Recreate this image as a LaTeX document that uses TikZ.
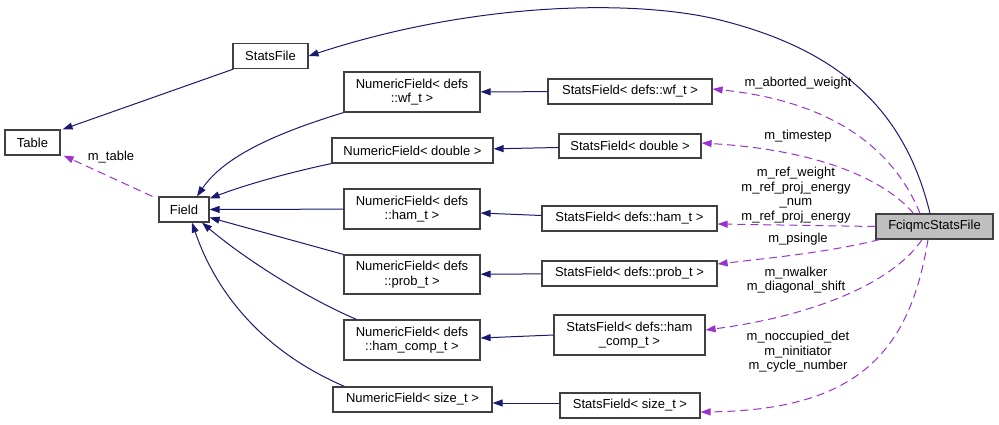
\documentclass[tikz,border=0pt]{standalone}
\usepackage{fontspec}
\setmainfont{Liberation Sans}
\usetikzlibrary{arrows.meta}
\definecolor{edgeblue}{HTML}{191970}
\definecolor{edgepurple}{HTML}{9A32CD}
\definecolor{boxline}{HTML}{404040}
\definecolor{boxgray}{HTML}{BFBFBF}
\tikzset{
    cls/.style={draw=boxline, line width=1.2pt, fill=white, inner sep=0pt, align=center,
      font=\fontsize{13}{14.5}\selectfont, minimum height=25pt},
    lbl/.style={inner sep=0pt, align=center, font=\fontsize{13}{14.5}\selectfont},
    dox/.tip={Triangle[length=10pt,width=7pt]},
    inh/.style={-dox, draw=edgeblue, line width=1pt},
    use/.style={-dox, draw=edgepurple, line width=1pt, dash pattern=on 8pt off 5pt}}

\begin{document}
\begin{tikzpicture}[x=1pt,y=-1pt]
\useasboundingbox (0,0) rectangle (999,424);
% classes
\node[cls, minimum width=75pt] (statsfile) at (270.5,56) {StatsFile};
\node[cls, minimum width=55pt] (table) at (32.5,142.5) {Table};
\node[cls, minimum width=50pt] (field) at (184,209.5) {Field};
\node[cls, minimum width=136pt, minimum height=40pt] (nwf) at (412,92) {NumericField< defs\\::wf\_t >};
\node[cls, minimum width=161pt] (ndbl) at (412.5,150.5) {NumericField< double >};
\node[cls, minimum width=136pt, minimum height=40pt] (nham) at (412,209) {NumericField< defs\\::ham\_t >};
\node[cls, minimum width=136pt, minimum height=39pt] (nprob) at (412,274.5) {NumericField< defs\\::prob\_t >};
\node[cls, minimum width=136pt, minimum height=40pt] (ncomp) at (412,340) {NumericField< defs\\::ham\_comp\_t >};
\node[cls, minimum width=159pt] (nsize) at (412.5,399.5) {NumericField< size\_t >};
\node[cls, minimum width=164pt] (swf) at (630,91.5) {StatsField< defs::wf\_t >};
\node[cls, minimum width=142pt, minimum height=24pt] (sdbl) at (630,146) {StatsField< double >};
\node[cls, minimum width=175pt] (sham) at (629.5,218.5) {StatsField< defs::ham\_t >};
\node[cls, minimum width=175pt] (sprob) at (629.5,273.5) {StatsField< defs::prob\_t >};
\node[cls, minimum width=151pt, minimum height=40pt] (scomp) at (629.5,335) {StatsField< defs::ham\\\_comp\_t >};
\node[cls, minimum width=140pt] (ssize) at (630,405.5) {StatsField< size\_t >};
\node[cls, minimum width=117pt, fill=boxgray] (fciqmc) at (934.5,226.5) {FciqmcStatsFile};

% inheritance
\draw[inh] ([xshift=-4.5pt]fciqmc.north) .. controls (905,110) and (840,50) .. (720,20)
  .. controls (640,0) and (480,0) .. (statsfile.east);
\draw[inh] ([xshift=1pt]statsfile.south west) -- ([xshift=2pt]table.north east);
\draw[inh] (nwf.south west) .. controls (280,132) and (225,155) .. ([xshift=13pt]field.north);
\draw[inh] (ndbl.south west) .. controls (300,170) and (250,183) .. ([yshift=11pt]field.east);
\draw[inh] (nham) -- (field);
\draw[inh] (nprob.north west) -- ([yshift=-8pt]field.east);
\draw[inh] ([xshift=13pt]ncomp.north west) .. controls (300,295) and (240,255) .. ([xshift=18pt]field.south);
\draw[inh] ([xshift=12pt]nsize.north west) .. controls (260,350) and (215,290) .. ([xshift=8pt]field.south);
\draw[inh] (swf) -- (nwf);
\draw[inh] (sdbl) -- (ndbl);
\draw[inh] ([yshift=3pt]sham.west) -- ([yshift=-4pt]nham.east);
\draw[inh] (sprob) -- (nprob);
\draw[inh] (scomp.west) -- ([yshift=2pt]ncomp.east);
\draw[inh] ([yshift=2.5pt]ssize.west) -- ([yshift=-3.5pt]nsize.east);

% members
\draw[use] ([xshift=-6pt]field.north west) -- ([xshift=3pt]table.south east);
\node[lbl] (ltable) at (111,157) {m\_table};
\draw[use] ([xshift=-14.5pt]fciqmc.north) .. controls (890,140) and (820,100) .. ([yshift=2.5pt]swf.east);
\node[lbl] (laborted) at (798,83) {m\_aborted\_weight};
\draw[use] ([xshift=-21pt]fciqmc.north) .. controls (885,180) and (820,150) .. ([yshift=3pt]sdbl.east);
\node[lbl] (ltimestep) at (798,136) {m\_timestep};
\draw[use] (fciqmc.west) -- ([yshift=-5.5pt]sham.east);
\node[lbl] (lref) at (796,195) {m\_ref\_weight\\m\_ref\_proj\_energy\\\_num\\m\_ref\_proj\_energy};
\draw[use] ([xshift=4pt]fciqmc.south west) .. controls (830,252) and (770,258) .. ([yshift=9.5pt]sprob.east);
\node[lbl] (lpsingle) at (798,239) {m\_psingle};
\draw[use] ([xshift=-12.5pt]fciqmc.south) .. controls (895,280) and (820,315) .. ([yshift=5pt]scomp.east);
\node[lbl] (lnwalker) at (796,280) {m\_nwalker\\m\_diagonal\_shift};
\draw[use] ([xshift=-6.5pt]fciqmc.south) .. controls (910,350) and (860,410) .. ([yshift=-6.5pt]ssize.east);
\node[lbl] (lnocc) at (798,352) {m\_noccupied\_det\\m\_ninitiator\\m\_cycle\_number};
\end{tikzpicture}
\end{document}
